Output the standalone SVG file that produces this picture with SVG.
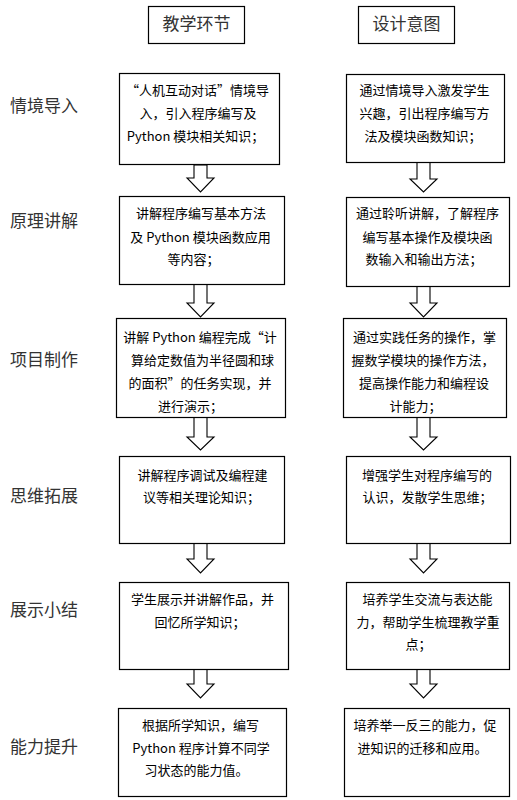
<svg xmlns="http://www.w3.org/2000/svg" width="517" height="800" viewBox="0 0 517 800">
<style>
.box{fill:#fff;stroke:#000;stroke-width:1.2}
.arr{fill:#fff;stroke:#000;stroke-width:1.1;stroke-linejoin:miter}
.t{font-family:"Noto Sans CJK SC","Noto Sans",sans-serif;font-size:13px;fill:#000;text-anchor:middle}
.fw{font-variant-east-asian:full-width;font-feature-settings:"fwid" 1}
.lab{font-family:"Noto Sans CJK SC","Noto Sans",sans-serif;font-size:17px;fill:#333}
.hd{font-family:"Noto Sans CJK SC","Noto Sans",sans-serif;font-size:17px;fill:#333;text-anchor:middle}
</style>
<rect width="517" height="800" fill="#fff"/>

<g id="header-left"><rect class="box" x="148.5" y="6.5" width="96" height="37"/><text class="hd" x="196.5" y="30">教学环节</text></g>
<g id="header-right"><rect class="box" x="358.5" y="6.5" width="96" height="37"/><text class="hd" x="406.5" y="30">设计意图</text></g>

<g id="labels">
<text class="lab" x="10" y="112">情境导入</text>
<text class="lab" x="10" y="227">原理讲解</text>
<text class="lab" x="10" y="366">项目制作</text>
<text class="lab" x="10" y="502">思维拓展</text>
<text class="lab" x="10" y="616">展示小结</text>
<text class="lab" x="10" y="753">能力提升</text>
</g>

<g id="connectors">
<polygon class="arr" points="194,165 207,165 207,178 214,178 200.5,192 187,178 194,178"/>
<polygon class="arr" points="417,162 430,162 430,179 437,179 423.5,192 410,179 417,179"/>
<polygon class="arr" points="194,284 207,284 207,303 214,303 200.5,317 187,303 194,303"/>
<polygon class="arr" points="417,286 430,286 430,303 437,303 423.5,317 410,303 417,303"/>
<polygon class="arr" points="194,417 207,417 207,437 214,437 200.5,450 187,437 194,437"/>
<polygon class="arr" points="417,417 430,417 430,437 437,437 423.5,450 410,437 417,437"/>
<polygon class="arr" points="194,543 207,543 207,559 214,559 200.5,573 187,559 194,559"/>
<polygon class="arr" points="417,543 430,543 430,559 437,559 423.5,573 410,559 417,559"/>
<polygon class="arr" points="194,669 207,669 207,684 214,684 200.5,698 187,684 194,684"/>
<polygon class="arr" points="417,669 430,669 430,684 437,684 423.5,698 410,684 417,684"/>
</g>

<g id="row1-left"><rect class="box" x="119.5" y="73.5" width="160" height="91"/>
<text class="t" x="197.5" y="94.5"><tspan class="fw">“</tspan>人机互动对话<tspan class="fw">”</tspan>情境导</text>
<text class="t" x="198" y="117.5">入，引入程序编写及</text>
<text class="t" x="195.5" y="140.5">Python 模块相关知识；</text></g>
<g id="row1-right"><rect class="box" x="346.5" y="74.5" width="158" height="88"/>
<text class="t" x="424.5" y="94.5">通过情境导入激发学生</text>
<text class="t" x="424.5" y="117.5">兴趣，引出程序编写方</text>
<text class="t" x="423" y="140.5">法及模块函数知识；</text></g>

<g id="row2-left"><rect class="box" x="119.5" y="196.5" width="165" height="88"/>
<text class="t" x="201" y="217.5">讲解程序编写基本方法</text>
<text class="t" x="200.5" y="241.5">及 Python 模块函数应用</text>
<text class="t" x="193.5" y="263.5">等内容；</text></g>
<g id="row2-right"><rect class="box" x="346.5" y="197.5" width="163" height="89"/>
<text class="t" x="427.5" y="217.5">通过聆听讲解，了解程序</text>
<text class="t" x="427.5" y="241.5">编写基本操作及模块函</text>
<text class="t" x="424" y="263.5">数输入和输出方法；</text></g>

<g id="row3-left"><rect class="box" x="116.5" y="318.5" width="169" height="99"/>
<text class="t" x="200" y="341.5">讲解 Python 编程完成<tspan class="fw">“</tspan>计</text>
<text class="t" x="202.5" y="364.5">算给定数值为半径圆和球</text>
<text class="t" x="200" y="387.5">的面积<tspan class="fw">”</tspan>的任务实现，并</text>
<text class="t" x="190.5" y="410.5">进行演示；</text></g>
<g id="row3-right"><rect class="box" x="343.5" y="318.5" width="163" height="99"/>
<text class="t" x="424.5" y="341.5">通过实践任务的操作，掌</text>
<text class="t" x="423" y="364.5">握数学模块的操作方法，</text>
<text class="t" x="424" y="387.5">提高操作能力和编程设</text>
<text class="t" x="415.5" y="410.5">计能力；</text></g>

<g id="row4-left"><rect class="box" x="119.5" y="456.5" width="165" height="87"/>
<text class="t" x="202.5" y="479.5">讲解程序调试及编程建</text>
<text class="t" x="201.5" y="501.5">议等相关理论知识；</text></g>
<g id="row4-right"><rect class="box" x="346.5" y="456.5" width="164" height="87"/>
<text class="t" x="427" y="479.5">增强学生对程序编写的</text>
<text class="t" x="427.5" y="501.5">认识，发散学生思维；</text></g>

<g id="row5-left"><rect class="box" x="119.5" y="582.5" width="169" height="87"/>
<text class="t" x="202.5" y="603.5">学生展示并讲解作品，并</text>
<text class="t" x="200" y="626.5">回忆所学知识；</text></g>
<g id="row5-right"><rect class="box" x="346.5" y="582.5" width="163" height="87"/>
<text class="t" x="427.5" y="603.5">培养学生交流与表达能</text>
<text class="t" x="428" y="626.5">力，帮助学生梳理教学重</text>
<text class="t" x="418.5" y="648.5">点；</text></g>

<g id="row6-left"><rect class="box" x="118.5" y="708.5" width="168" height="88"/>
<text class="t" x="200.5" y="729.5">根据所学知识，编写</text>
<text class="t" x="201" y="752.5">Python 程序计算不同学</text>
<text class="t" x="196.5" y="774.5">习状态的能力值。</text></g>
<g id="row6-right"><rect class="box" x="344.5" y="708.5" width="165" height="88"/>
<text class="t" x="425" y="729.5">培养举一反三的能力，促</text>
<text class="t" x="422.5" y="752.5">进知识的迁移和应用。</text></g>
</svg>
